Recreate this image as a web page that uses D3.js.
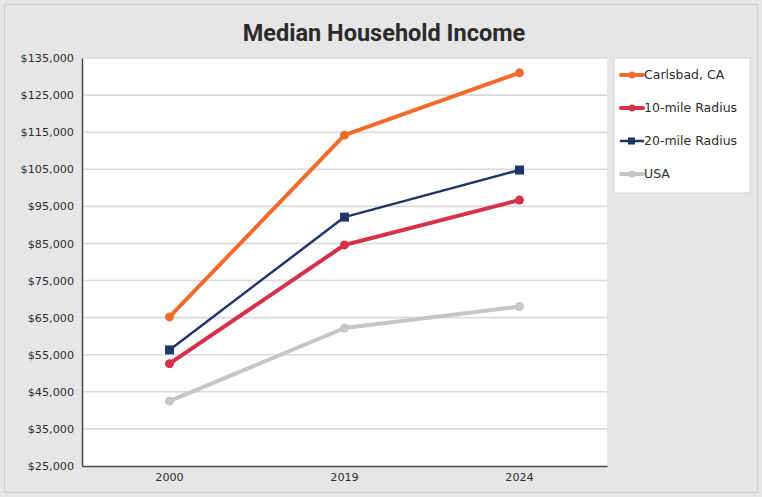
<!DOCTYPE html>
<html>
<head>
<meta charset="utf-8">
<script src="https://cdn.jsdelivr.net/npm/d3@7"></script>
<style>
  html, body { margin: 0; padding: 0; background: #e6e6e6; }
  svg { display: block; }
</style>
</head>
<body>
<svg id="chart" width="762" height="497"></svg>
<script>
// Median household income by area
const years = ["2000", "2019", "2024"];
const seriesNames = ["Carlsbad, CA", "10-mile Radius", "20-mile Radius", "USA"];
const carlsbad = [65200, 114200, 131000];
const radius10 = [52600, 84600, 96700];
const radius20 = [56300, 92100, 104800];
const usa = [42500, 62200, 68000];
const yTicks = [25000, 35000, 45000, 55000, 65000, 75000, 85000, 95000, 105000, 115000, 125000, 135000];

const seriesValues = [carlsbad, radius10, radius20, usa];
const colors = ["#f26b2c", "#d7304a", "#1e3769", "#c6c6c6"];
const widths = [4, 4, 2.5, 4];
const markers = ["circle", "circle", "square", "circle"];

const W = 762, H = 497;
const margin = { top: 58, right: 155, bottom: 31, left: 82 };
const svg = d3.select("#chart");
const font = "'DejaVu Sans', 'Liberation Sans', sans-serif";

// Background and frame
svg.append("rect").attr("width", W).attr("height", H).attr("fill", "#e6e6e6");
svg.append("rect").attr("x", 4.5).attr("y", 4.5).attr("width", W - 9).attr("height", H - 9)
  .attr("fill", "none").attr("stroke", "#cfcfcf").attr("stroke-width", 1);

const x = d3.scaleBand().domain(years).range([margin.left, W - margin.right]);
const y = d3.scaleLinear().domain([25000, 135000]).range([H - margin.bottom, margin.top]);

// Plot area
svg.append("rect")
  .attr("x", margin.left).attr("y", margin.top)
  .attr("width", W - margin.right - margin.left)
  .attr("height", H - margin.bottom - margin.top)
  .attr("fill", "#ffffff");

// Gridlines
svg.append("g")
  .selectAll("line").data(yTicks.slice(1)).join("line")
  .attr("x1", margin.left).attr("x2", W - margin.right)
  .attr("y1", d => y(d)).attr("y2", d => y(d))
  .attr("stroke", "#dadada").attr("stroke-width", 1.6);

// Y axis
const yAxis = svg.append("g")
  .attr("transform", `translate(${margin.left},0)`)
  .call(d3.axisLeft(y).tickValues(yTicks).tickSize(0).tickPadding(8)
    .tickFormat(d => "$" + d3.format(",")(d)));
yAxis.select(".domain").attr("stroke", "#4a4a4a").attr("stroke-width", 1.5);
yAxis.selectAll("text").attr("font-family", font).attr("font-size", 11.2).attr("fill", "#2e2e2e");

// X axis
const xAxis = svg.append("g")
  .attr("transform", `translate(0,${H - margin.bottom})`)
  .call(d3.axisBottom(x).tickSize(0).tickPadding(7));
xAxis.select(".domain").attr("stroke", "#4a4a4a").attr("stroke-width", 1.5);
xAxis.selectAll("text").attr("font-family", font).attr("font-size", 11.2).attr("fill", "#2e2e2e");

// Title
svg.append("text")
  .attr("x", 384).attr("y", 41)
  .attr("text-anchor", "middle")
  .attr("font-family", "Roboto, 'Liberation Sans', sans-serif")
  .attr("font-weight", "bold").attr("font-size", 23.5).attr("fill", "#2b2b2b")
  .text("Median Household Income");

// Series lines and markers
const line = d3.line().x((d, i) => x(years[i]) + x.bandwidth() / 2).y(d => y(d));
seriesValues.forEach((vals, s) => {
  const g = svg.append("g");
  g.append("path").datum(vals).attr("d", line)
    .attr("fill", "none").attr("stroke", colors[s]).attr("stroke-width", widths[s])
    .attr("stroke-linejoin", "round").attr("stroke-linecap", "round");
  if (markers[s] === "square") {
    g.selectAll("rect").data(vals).join("rect")
      .attr("x", (d, i) => x(years[i]) + x.bandwidth() / 2 - 4.5)
      .attr("y", d => y(d) - 4.5)
      .attr("width", 9).attr("height", 9)
      .attr("fill", colors[s]);
  } else {
    g.selectAll("circle").data(vals).join("circle")
      .attr("cx", (d, i) => x(years[i]) + x.bandwidth() / 2)
      .attr("cy", d => y(d)).attr("r", 4.5)
      .attr("fill", colors[s]);
  }
});

// Legend
const lg = svg.append("g");
lg.append("rect").attr("x", 614).attr("y", 58).attr("width", 136).attr("height", 135)
  .attr("fill", "#ffffff").attr("stroke", "#d4d4d4");
seriesNames.forEach((name, s) => {
  const ly = 75 + s * 33;
  lg.append("line").attr("x1", 621).attr("x2", 643).attr("y1", ly).attr("y2", ly)
    .attr("stroke", colors[s]).attr("stroke-width", widths[s]).attr("stroke-linecap", "round");
  if (markers[s] === "square") {
    lg.append("rect").attr("x", 628).attr("y", ly - 3.5).attr("width", 7).attr("height", 7).attr("fill", colors[s]);
  } else {
    lg.append("circle").attr("cx", 632).attr("cy", ly).attr("r", 3.5).attr("fill", colors[s]);
  }
  lg.append("text").attr("x", 644).attr("y", ly + 4)
    .attr("font-family", font).attr("font-size", 12.5).attr("fill", "#2e2e2e")
    .text(name);
});
</script>
</body>
</html>
